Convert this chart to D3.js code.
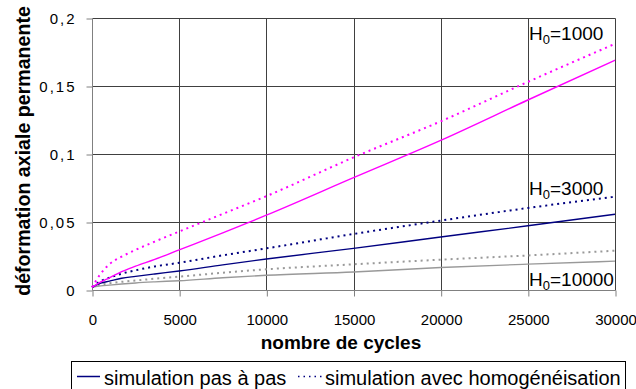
<!DOCTYPE html>
<html>
<head>
<meta charset="utf-8">
<script src="https://cdn.jsdelivr.net/npm/d3@7"></script>
<style>
  body { margin: 0; background: #fff; }
  svg { display: block; font-family: "Liberation Sans", Arial, sans-serif; }
</style>
</head>
<body>
<svg id="chart" width="636" height="389"></svg>
<script>
// Number of load cycles (x) and permanent axial strain (y) for three H0 values
const cycles = [0, 500, 1000, 1700, 2500, 3600, 5000, 7500, 10000, 15000, 20000, 25000, 30000];

const h1000Pas    = [0.002, 0.006, 0.009, 0.0135, 0.0175, 0.0225, 0.0295, 0.042, 0.055, 0.0826, 0.110, 0.1397, 0.169];
const h1000Homog  = [0.002, 0.012, 0.019, 0.0245, 0.0295, 0.0356, 0.043, 0.056, 0.069, 0.0975, 0.124, 0.153, 0.181];
const h3000Pas    = [0.002, 0.005, 0.0065, 0.0086, 0.010, 0.0118, 0.014, 0.0185, 0.0228, 0.0306, 0.039, 0.0472, 0.0557];
const h3000Homog  = [0.002, 0.0065, 0.009, 0.012, 0.0145, 0.0173, 0.020, 0.0255, 0.0306, 0.0412, 0.051, 0.0603, 0.0686];
const h10000Pas   = [0.002, 0.003, 0.0036, 0.0044, 0.0052, 0.006, 0.0068, 0.009, 0.0108, 0.0132, 0.0165, 0.019, 0.0212];
const h10000Homog = [0.002, 0.004, 0.005, 0.006, 0.007, 0.0083, 0.0098, 0.0127, 0.0152, 0.0189, 0.0223, 0.0254, 0.0289];

const xTicks = [0, 5000, 10000, 15000, 20000, 25000, 30000];
const yTicks = [0, 0.05, 0.1, 0.15, 0.2];
const h0Values = ["1000", "3000", "10000"];
const legendLabels = ["simulation pas à pas", "simulation avec homogénéisation"];

const series = [
  { values: h10000Pas,   color: "#999999", dotted: false },
  { values: h10000Homog, color: "#999999", dotted: true  },
  { values: h3000Pas,    color: "#000080", dotted: false },
  { values: h3000Homog,  color: "#000080", dotted: true  },
  { values: h1000Pas,    color: "#ff00ff", dotted: false },
  { values: h1000Homog,  color: "#ff00ff", dotted: true  }
];

const svg = d3.select("#chart");
const plotLeft = 92, plotRight = 615, plotTop = 18, plotBottom = 290;

const x = d3.scaleLinear().domain([0, 30000]).range([plotLeft, plotRight]);
const y = d3.scaleLinear().domain([0, 0.2]).range([plotBottom, plotTop]);
const fmtY = v => d3.format("")(v).replace(".", ",");

// grid
const grid = svg.append("g").attr("transform", "translate(0.5,0.5)");
grid.selectAll("line.h").data(yTicks.filter(v => v > 0)).join("line")
  .attr("x1", plotLeft).attr("x2", plotRight)
  .attr("y1", d => Math.round(y(d))).attr("y2", d => Math.round(y(d)))
  .attr("stroke", "#404040").attr("stroke-width", 1);
grid.selectAll("line.v").data(xTicks.filter(v => v > 0)).join("line")
  .attr("x1", d => Math.round(x(d))).attr("x2", d => Math.round(x(d)))
  .attr("y1", plotTop).attr("y2", plotBottom)
  .attr("stroke", "#404040").attr("stroke-width", 1);

// axes
const xAxis = d3.axisBottom(x).tickValues(xTicks).tickSize(6).tickPadding(18).tickFormat(d3.format("d"));
const yAxis = d3.axisLeft(y).tickValues(yTicks).tickSize(6).tickPadding(10).tickFormat(fmtY);

const gx = svg.append("g").attr("transform", `translate(0.5,${plotBottom + 0.5})`)
  .call(xAxis);
gx.select(".domain").attr("stroke", "#808080").attr("d", `M${plotLeft},0H${plotRight}`);
gx.selectAll(".tick line").attr("stroke", "#808080");
gx.selectAll(".tick text").attr("fill", "#000").attr("font-size", "15px")
  .attr("font-family", "'Liberation Sans', Arial, sans-serif");

const gy = svg.append("g").attr("transform", `translate(${plotLeft + 0.5},0.5)`)
  .call(yAxis);
gy.select(".domain").attr("stroke", "#808080").attr("d", `M0,${plotTop}V${plotBottom}`);
gy.selectAll(".tick line").attr("stroke", "#808080");
gy.selectAll(".tick text").attr("fill", "#000").attr("font-size", "15px")
  .attr("letter-spacing", "2px")
  .attr("font-family", "'Liberation Sans', Arial, sans-serif");

// data lines
const line = d3.line()
  .x((d, i) => x(cycles[i]))
  .y(d => y(d))
  .curve(d3.curveMonotoneX);

svg.append("g").selectAll("path").data(series).join("path")
  .attr("d", s => line(s.values))
  .attr("fill", "none")
  .attr("stroke", s => s.color)
  .attr("stroke-width", s => s.dotted ? 2 : 1.4)
  .attr("stroke-dasharray", s => s.dotted ? "2,4" : null);

// H0 annotations
const annY = [40, 195, 286];
const ann = svg.append("g").attr("font-size", "19px").attr("fill", "#000");
h0Values.forEach((v, i) => {
  const t = ann.append("text").attr("x", 529).attr("y", annY[i]);
  t.append("tspan").text("H");
  t.append("tspan").attr("font-size", "13px").attr("dy", 4).text("0");
  t.append("tspan").attr("dy", -4).text("=" + v);
});

// axis titles
svg.append("text")
  .attr("x", 341).attr("y", 349)
  .attr("text-anchor", "middle").attr("font-weight", "bold").attr("font-size", "19px")
  .text("nombre de cycles");
svg.append("text")
  .attr("transform", "translate(30,151) rotate(-90)")
  .attr("text-anchor", "middle").attr("font-weight", "bold").attr("font-size", "19.6px")
  .text("déformation axiale permanente");

// legend
const lg = svg.append("g");
lg.append("rect").attr("x", 71.5).attr("y", 361.5).attr("width", 554).attr("height", 40)
  .attr("fill", "#fff").attr("stroke", "#000").attr("stroke-width", 1);
lg.append("line").attr("x1", 77).attr("x2", 100).attr("y1", 376.5).attr("y2", 376.5)
  .attr("stroke", "#000080").attr("stroke-width", 1.5);
lg.append("text").attr("x", 104).attr("y", 385).attr("font-size", "20px").text(legendLabels[0]);
lg.append("line").attr("x1", 298).attr("x2", 323).attr("y1", 376.5).attr("y2", 376.5)
  .attr("stroke", "#000080").attr("stroke-width", 1.5).attr("stroke-dasharray", "1.5,4");
lg.append("text").attr("x", 325).attr("y", 385).attr("font-size", "20px").text(legendLabels[1]);
</script>
</body>
</html>
